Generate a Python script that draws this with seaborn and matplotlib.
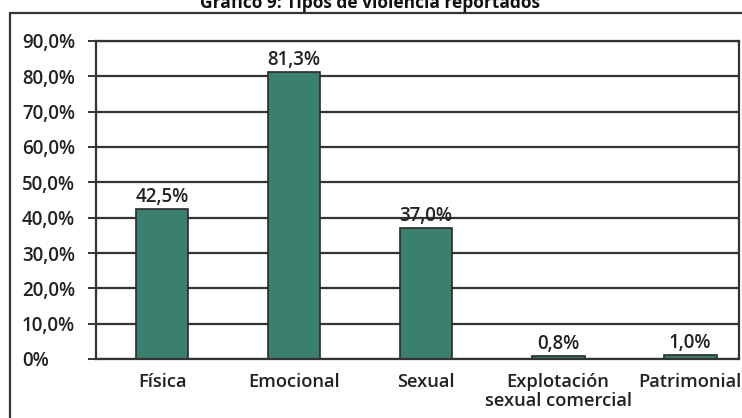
import matplotlib
matplotlib.use("Agg")
import matplotlib.pyplot as plt
import seaborn as sns
import pandas as pd
from matplotlib.patches import Rectangle

categories = ["Física", "Emocional", "Sexual", "Explotación\nsexual comercial", "Patrimonial"]
values = [42.5, 81.3, 37.0, 0.8, 1.0]
labels = ["42,5%", "81,3%", "37,0%", "0,8%", "1,0%"]
yticks = [0, 10, 20, 30, 40, 50, 60, 70, 80, 90]
ytick_labels = ["0%", "10,0%", "20,0%", "30,0%", "40,0%", "50,0%", "60,0%", "70,0%", "80,0%", "90,0%"]
title = "Gráfico 9: Tipos de violencia reportados"

sns.set_theme(style="white")
plt.rcParams['font.family'] = ['Open Sans', 'DejaVu Sans']

W, H = 742, 418
fig = plt.figure(figsize=(W / 100, H / 100), dpi=100)
ax = fig.add_axes([96 / W, 1 - 359 / H, (739 - 96) / W, (359 - 41) / H])

df = pd.DataFrame({"cat": categories, "val": values})
sns.barplot(data=df, x="cat", y="val", ax=ax, color="#3b7f6f", saturation=1,
            width=0.40, edgecolor="#2a2a2a", linewidth=1.2)

ax.set_ylim(0, 90)
ax.set_xlim(-0.5, 4.37)
ax.set_yticks(yticks)
ax.set_yticklabels(ytick_labels)
ax.yaxis.grid(True, color="#333333", linewidth=1.6)
ax.set_axisbelow(True)
ax.set_xlabel("")
ax.set_ylabel("")

for s in ["top", "right", "left", "bottom"]:
    ax.spines[s].set_visible(True)
    ax.spines[s].set_color("#333333")
    ax.spines[s].set_linewidth(1.6)

# tick length 6pt ≈ 8.3px; label left edge at x≈22px -> pad ≈ (96-8.3-22)px
pad_pt = (96 - 8.3 - 22) * 0.72
ax.tick_params(axis="y", which="both", left=True, length=6, width=1.4, color="#333333",
               labelsize=13.5, labelcolor="#222222", pad=pad_pt)
ax.tick_params(axis="x", bottom=False, labelsize=13.2, labelcolor="#222222", pad=4)
for t in ax.get_yticklabels():
    t.set_fontweight("semibold")
    t.set_horizontalalignment("left")
for t in ax.get_xticklabels():
    t.set_fontweight("semibold")
    t.set_linespacing(1.08)
    t.set_verticalalignment("top")

for i, (v, lab) in enumerate(zip(values, labels)):
    ax.annotate(lab, (i, v), xytext=(0, 1.5), textcoords="offset points",
                ha="center", va="bottom", fontsize=13.5, fontweight="semibold", color="#222222")

# outer frame (left and top edges visible)
fig.add_artist(Rectangle((10 / W, -0.1), 1.2, 1 - 13 / H + 0.1, transform=fig.transFigure,
                         fill=False, edgecolor="#333333", linewidth=1.6))

fig.text(370 / W, 1 - 8 / H, title, ha="center", va="baseline", fontsize=12.5,
         fontweight="bold", color="#111111")

fig.savefig("out.png", dpi=100)
